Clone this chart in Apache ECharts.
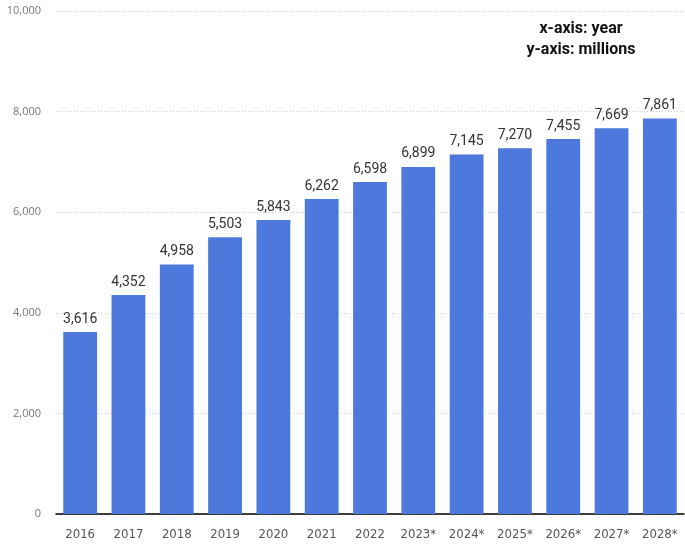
<!DOCTYPE html>
<html>
<head>
<meta charset="utf-8">
<script src="https://cdn.jsdelivr.net/npm/echarts@6/dist/echarts.min.js"></script>
<style>html,body{margin:0;padding:0;background:#fff}#c{width:685px;height:545px}</style>
</head>
<body>
<div id="c"></div>
<script>
const categories = ['2016','2017','2018','2019','2020','2021','2022','2023*','2024*','2025*','2026*','2027*','2028*'];
const values = [3616,4352,4958,5503,5843,6262,6598,6899,7145,7270,7455,7669,7861];
const yTicks = [0,2000,4000,6000,8000,10000];

const chart = echarts.init(document.getElementById('c'));
chart.setOption({
  animation: false,
  grid: {left: 56, right: 1, top: 11, bottom: 31},
  graphic: [{
    type: 'text', x: 581, y: 18,
    style: {text: 'x-axis: year\ny-axis: millions', font: 'bold 16px Roboto', fill: '#111', align: 'center', textAlign: 'center', lineHeight: 21}
  }],
  xAxis: {
    type: 'category', data: categories,
    axisLine: {lineStyle: {color: '#000', width: 1.5}},
    axisTick: {show: false},
    axisLabel: {color: '#555', fontSize: 13, fontFamily: '"DejaVu Sans Condensed", sans-serif', margin: 14}
  },
  yAxis: {
    type: 'value', min: 0, max: 10000, interval: 2000,
    axisLabel: {color: '#777', fontSize: 11, fontFamily: 'Open Sans', margin: 15,
      formatter: v => yTicks.includes(v) ? v.toLocaleString('en-US') : ''},
    splitLine: {lineStyle: {color: '#ccc', type: [1, 2]}}
  },
  series: [{
    type: 'bar', data: values, barCategoryGap: '30%',
    itemStyle: {color: '#4e79dc'},
    label: {show: true, position: 'top', distance: 6, color: '#333', fontSize: 14, fontFamily: 'Roboto, sans-serif',
      formatter: p => p.value.toLocaleString('en-US')}
  }]
});
</script>
</body>
</html>
